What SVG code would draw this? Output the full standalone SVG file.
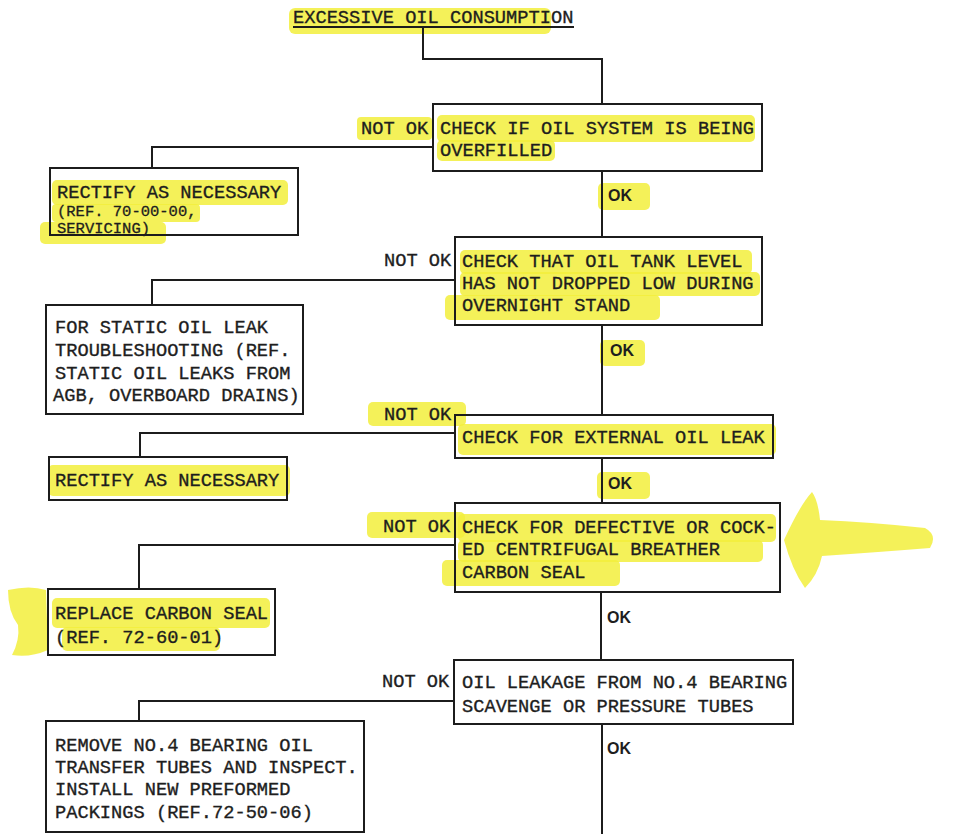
<svg xmlns="http://www.w3.org/2000/svg" width="956" height="834" viewBox="0 0 956 834">
<style>
.bg{fill:#ffffff}
.hl{fill:#f2ee3c;opacity:0.85}
.box{fill:none;stroke:#1c1c1c;stroke-width:2}
.ln{fill:none;stroke:#1c1c1c;stroke-width:2}
.t{font-family:"Liberation Mono","DejaVu Sans Mono",monospace;font-size:18.7px;fill:#1e1e1e;stroke:#1e1e1e;stroke-width:0.35}
.s{font-family:"Liberation Mono","DejaVu Sans Mono",monospace;font-size:15.5px;fill:#1e1e1e;stroke:#1e1e1e;stroke-width:0.3}
.ok{font-family:"Liberation Sans",Arial,sans-serif;font-size:16px;font-weight:bold;fill:#1e1e1e}
</style>
<rect class="bg" x="0" y="0" width="956" height="834"/>
<g id="highlights">
<rect class="hl" x="289" y="8" width="262" height="26" rx="6"/>
<rect class="hl" x="357" y="117" width="75" height="23" rx="4"/>
<rect class="hl" x="437" y="115" width="318" height="27" rx="5"/>
<rect class="hl" x="437" y="140" width="118" height="21" rx="5"/>
<rect class="hl" x="598" y="183" width="52" height="27" rx="5"/>
<rect class="hl" x="52" y="180" width="236" height="25" rx="5"/>
<rect class="hl" x="52" y="204" width="148" height="18" rx="4"/>
<rect class="hl" x="40" y="222" width="126" height="22" rx="5"/>
<rect class="hl" x="460" y="250" width="292" height="24" rx="5"/>
<rect class="hl" x="460" y="272" width="300" height="24" rx="5"/>
<rect class="hl" x="445" y="295" width="215" height="25" rx="5"/>
<rect class="hl" x="600" y="340" width="45" height="26" rx="5"/>
<rect class="hl" x="368" y="402" width="98" height="24" rx="5"/>
<rect class="hl" x="458" y="424" width="318" height="31" rx="5"/>
<rect class="hl" x="48" y="465" width="242" height="31" rx="5"/>
<rect class="hl" x="597" y="472" width="53" height="27" rx="5"/>
<rect class="hl" x="367" y="512" width="98" height="26" rx="5"/>
<rect class="hl" x="458" y="514" width="318" height="28" rx="5"/>
<rect class="hl" x="458" y="540" width="305" height="22" rx="5"/>
<rect class="hl" x="442" y="560" width="178" height="26" rx="5"/>
<path class="hl" d="M784 540 Q800 505 812 492 Q818 500 820 520 Q870 522 925 528 Q938 535 930 548 Q880 552 822 556 Q818 575 805 588 Q792 570 784 540 Z"/>
<rect class="hl" x="52" y="598" width="218" height="30" rx="5"/>
<rect class="hl" x="62" y="627" width="158" height="24" rx="5"/>
<path class="hl" d="M8 590 Q30 585 46 590 L48 650 Q30 658 12 655 Q20 640 18 625 Q8 612 8 590 Z"/>
</g>
<g id="connectors">
<path class="ln" d="M423 27 V59 H602 V104"/>
<path class="ln" d="M433 147 H152 V168"/>
<path class="ln" d="M602 171 V237"/>
<path class="ln" d="M455 280 H152 V305"/>
<path class="ln" d="M602 325 V415"/>
<path class="ln" d="M455 433 H140 V457"/>
<path class="ln" d="M602 458 V503"/>
<path class="ln" d="M455 545 H139 V589"/>
<path class="ln" d="M601 592 V660"/>
<path class="ln" d="M454 701 H139 V721"/>
<path class="ln" d="M602 724 V834"/>
</g>
<g id="title">
<text class="t" x="293" y="23">EXCESSIVE OIL CONSUMPTION</text>
<line class="ln" x1="293" y1="27" x2="574" y2="27" stroke-width="1.6"/>
</g>
<g id="check-overfilled">
<rect class="box" x="433" y="104" width="329" height="67"/>
<text class="t" x="440" y="134">CHECK IF OIL SYSTEM IS BEING</text>
<text class="t" x="440" y="156">OVERFILLED</text>
<text class="t" x="361" y="134">NOT OK</text>
<text class="ok" x="608" y="201">OK</text>
</g>
<g id="rectify-servicing">
<rect class="box" x="50" y="168" width="248" height="67"/>
<text class="t" x="57" y="198">RECTIFY AS NECESSARY</text>
<text class="s" x="57" y="216">(REF. 70-00-00,</text>
<text class="s" x="57" y="233">SERVICING)</text>
</g>
<g id="check-tank-level">
<rect class="box" x="455" y="237" width="307" height="88"/>
<text class="t" x="462" y="267">CHECK THAT OIL TANK LEVEL</text>
<text class="t" x="462" y="289">HAS NOT DROPPED LOW DURING</text>
<text class="t" x="462" y="311">OVERNIGHT STAND</text>
<text class="t" x="384" y="266">NOT OK</text>
<text class="ok" x="610" y="356">OK</text>
</g>
<g id="static-oil-leak">
<rect class="box" x="46" y="305" width="257" height="109"/>
<text class="t" x="55" y="333">FOR STATIC OIL LEAK</text>
<text class="t" x="55" y="356">TROUBLESHOOTING (REF.</text>
<text class="t" x="55" y="379">STATIC OIL LEAKS FROM</text>
<text class="t" x="53" y="401">AGB, OVERBOARD DRAINS)</text>
</g>
<g id="check-external-leak">
<rect class="box" x="455" y="415" width="318" height="43"/>
<text class="t" x="462" y="443">CHECK FOR EXTERNAL OIL LEAK</text>
<text class="t" x="384" y="420">NOT OK</text>
<text class="ok" x="608" y="489">OK</text>
</g>
<g id="rectify-2">
<rect class="box" x="49" y="457" width="238" height="43"/>
<text class="t" x="55" y="486">RECTIFY AS NECESSARY</text>
</g>
<g id="check-carbon-seal">
<rect class="box" x="455" y="503" width="325" height="89"/>
<text class="t" x="462" y="533">CHECK FOR DEFECTIVE OR COCK-</text>
<text class="t" x="462" y="555">ED CENTRIFUGAL BREATHER</text>
<text class="t" x="462" y="578">CARBON SEAL</text>
<text class="t" x="383" y="532">NOT OK</text>
<text class="ok" x="607" y="623">OK</text>
</g>
<g id="replace-carbon-seal">
<rect class="box" x="48" y="589" width="227" height="66"/>
<text class="t" x="55" y="619">REPLACE CARBON SEAL</text>
<text class="t" x="55" y="643">(REF. 72-60-01)</text>
</g>
<g id="check-no4-bearing">
<rect class="box" x="454" y="660" width="339" height="64"/>
<text class="t" x="462" y="688">OIL LEAKAGE FROM NO.4 BEARING</text>
<text class="t" x="462" y="712">SCAVENGE OR PRESSURE TUBES</text>
<text class="t" x="382" y="687">NOT OK</text>
<text class="ok" x="607" y="754">OK</text>
</g>
<g id="remove-transfer-tubes">
<rect class="box" x="46" y="721" width="318" height="111"/>
<text class="t" x="55" y="751">REMOVE NO.4 BEARING OIL</text>
<text class="t" x="55" y="773">TRANSFER TUBES AND INSPECT.</text>
<text class="t" x="55" y="795">INSTALL NEW PREFORMED</text>
<text class="t" x="55" y="818">PACKINGS (REF.72-50-06)</text>
</g>
</svg>
